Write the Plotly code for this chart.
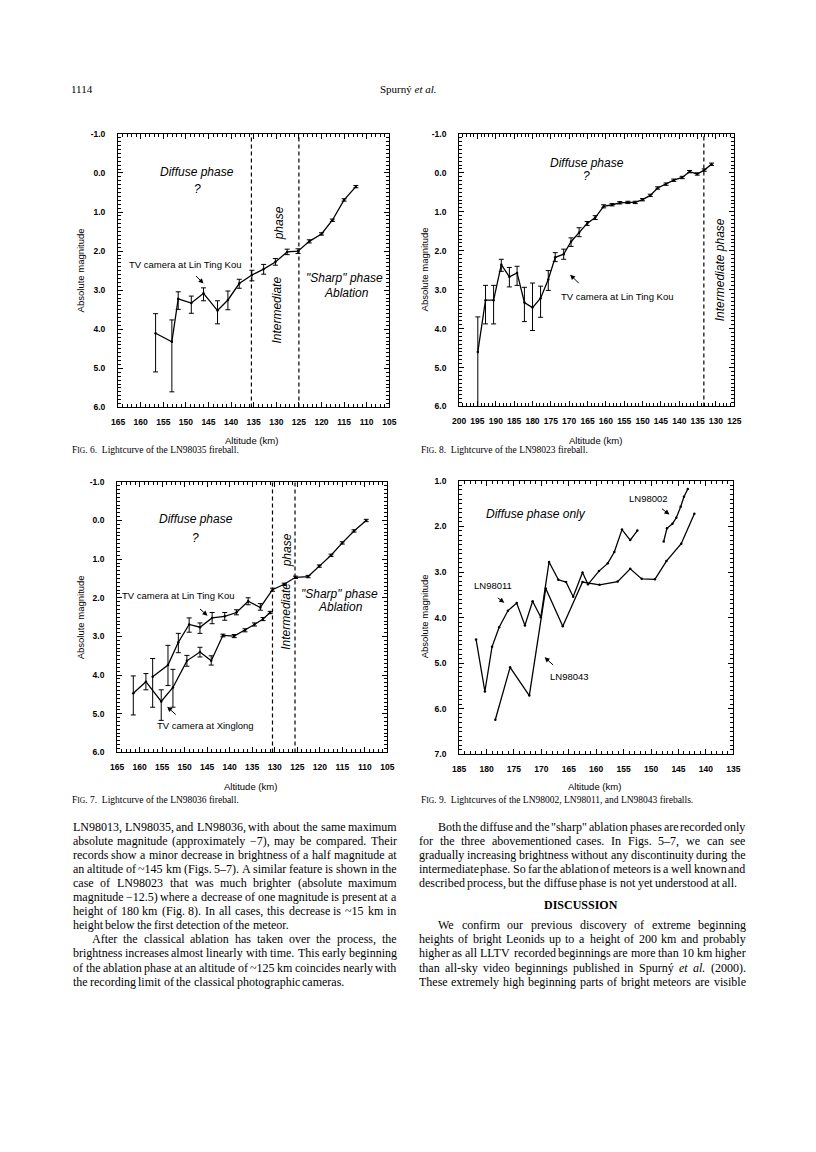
import re
import plotly.graph_objects as go

W, H = 816, 1152
SANS = "Liberation Sans, Arial, Helvetica, sans-serif"
SERIF = "Liberation Serif, Times New Roman, serif"

# ---------------- Fig. 6 : LN98035 ----------------
fig6_alt = [156.7, 153.1, 151.7, 148.8, 146.1, 143.0, 140.7, 138.2, 135.4, 132.8,
            130.2, 127.6, 125.2, 122.7, 120.0, 117.6, 115.0, 112.4]
fig6_mag = [4.10, 4.32, 3.22, 3.33, 3.08, 3.52, 3.25, 2.83, 2.61, 2.46,
            2.28, 2.02, 2.00, 1.75, 1.56, 1.21, 0.69, 0.35]
fig6_err_bright = [0.50, 0.56, 0.18, 0.18, 0.14, 0.25, 0.23, 0.11, 0.12, 0.12,
                   0.09, 0.07, 0.06, 0.04, 0.03, 0.03, 0.03, 0.03]
fig6_err_faint = [0.99, 1.28, 0.27, 0.26, 0.19, 0.34, 0.25, 0.12, 0.15, 0.13,
                  0.08, 0.07, 0.06, 0.04, 0.03, 0.03, 0.03, 0.03]
fig6_phase_bounds = [135.5, 125.0]
fig6_xticks = [165, 160, 155, 150, 145, 140, 135, 130, 125, 120, 115, 110, 105]
fig6_yticks = [-1, 0, 1, 2, 3, 4, 5, 6]

# ---------------- Fig. 8 : LN98023 ----------------
fig8_alt = [194.9, 192.8, 190.6, 188.5, 186.3, 184.2, 182.2, 180.0, 177.8, 175.7,
            173.8, 171.5, 169.5, 167.3, 165.1, 162.9, 160.6, 158.3, 156.2, 154.0,
            152.0, 150.0, 147.9, 145.9, 143.6, 141.5, 139.2, 137.2, 135.1, 133.2, 131.2]
fig8_mag = [4.60, 3.27, 3.27, 2.36, 2.67, 2.57, 3.33, 3.46, 3.22, 2.74,
            2.17, 2.09, 1.77, 1.54, 1.30, 1.15, 0.86, 0.82, 0.77, 0.76,
            0.76, 0.69, 0.58, 0.39, 0.29, 0.19, 0.12, -0.03, 0.03, -0.07, -0.22]
fig8_err_bright = [0.90, 0.38, 0.38, 0.14, 0.24, 0.17, 0.39, 0.63, 0.31, 0.23,
                   0.12, 0.13, 0.10, 0.13, 0.05, 0.05, 0.04, 0.03, 0.03, 0.03,
                   0.03, 0.03, 0.03, 0.03, 0.03, 0.03, 0.03, 0.03, 0.03, 0.03, 0.03]
fig8_err_faint = [1.40, 0.61, 0.61, 0.17, 0.26, 0.32, 0.49, 0.59, 0.49, 0.28,
                  0.11, 0.13, 0.12, 0.10, 0.05, 0.05, 0.04, 0.03, 0.03, 0.03,
                  0.03, 0.03, 0.03, 0.03, 0.03, 0.03, 0.03, 0.03, 0.03, 0.03, 0.03]
fig8_phase_bounds = [133.3]
fig8_xticks = [200, 195, 190, 185, 180, 175, 170, 165, 160, 155, 150, 145, 140, 135, 130, 125]
fig8_yticks = [-1, 0, 1, 2, 3, 4, 5, 6]

# ---------------- Fig. 7 : LN98036 ----------------
fig7_ltk_alt = [157.1, 153.7, 151.4, 149.0, 146.6, 143.9, 141.1, 138.5, 135.9, 133.2,
                130.5, 127.9, 125.4, 122.6, 120.1, 117.5, 115.0, 112.4, 109.7]
fig7_ltk_mag = [4.04, 3.74, 3.15, 2.69, 2.76, 2.52, 2.48, 2.38, 2.09, 2.25,
                1.79, 1.65, 1.47, 1.45, 1.18, 0.90, 0.58, 0.27, 0.00]
fig7_ltk_err_bright = [0.47, 0.51, 0.23, 0.17, 0.11, 0.14, 0.10, 0.07, 0.09, 0.10,
                       0.04, 0.03, 0.03, 0.03, 0.03, 0.03, 0.03, 0.03, 0.03]
fig7_ltk_err_faint = [0.79, 0.53, 0.27, 0.20, 0.16, 0.15, 0.10, 0.06, 0.09, 0.07,
                      0.04, 0.03, 0.03, 0.03, 0.03, 0.03, 0.03, 0.03, 0.03]
fig7_xl_alt = [161.4, 158.6, 155.2, 152.6, 149.5, 146.6, 144.1, 141.5, 139.0, 136.6,
               134.5, 132.6, 131.0]
fig7_xl_mag = [4.47, 4.17, 4.68, 4.32, 3.63, 3.40, 3.63, 2.97, 2.99, 2.84,
               2.69, 2.55, 2.38]
fig7_xl_err_bright = [0.45, 0.21, 0.30, 0.47, 0.14, 0.12, 0.13, 0.03, 0.04, 0.04,
                      0.04, 0.04, 0.03]
fig7_xl_err_faint = [0.56, 0.21, 0.49, 0.51, 0.14, 0.13, 0.11, 0.04, 0.04, 0.04,
                     0.04, 0.04, 0.03]
fig7_phase_bounds = [130.5, 125.5]
fig7_xticks = [165, 160, 155, 150, 145, 140, 135, 130, 125, 120, 115, 110, 105]
fig7_yticks = [-1, 0, 1, 2, 3, 4, 5, 6]

# ---------------- Fig. 9 : LN98002, LN98011, LN98043 ----------------
ln98011_alt = [181.9, 180.3, 179.0, 177.7, 176.1, 174.5, 173.0, 171.6, 170.1, 168.6,
               166.9, 165.5, 164.2, 162.5, 161.5, 159.5, 157.9, 156.7, 155.3, 153.8, 152.5]
ln98011_mag = [4.48, 5.62, 4.64, 4.21, 3.85, 3.68, 4.17, 3.64, 3.99, 2.78,
               3.17, 3.22, 3.54, 3.01, 3.27, 2.98, 2.81, 2.56, 2.07, 2.30, 2.09]
ln98043_alt = [178.4, 175.7, 172.2, 169.2, 166.1, 162.5, 159.4, 156.1, 153.8, 151.7,
               149.3, 147.2, 144.5, 142.1]
ln98043_mag = [6.24, 5.09, 5.71, 3.36, 4.19, 3.22, 3.28, 3.21, 2.93, 3.15,
               3.16, 2.76, 2.38, 1.72]
ln98002_alt = [147.7, 147.1, 146.1, 145.4, 144.6, 144.0, 143.3]
ln98002_mag = [2.33, 2.04, 1.94, 1.81, 1.57, 1.35, 1.18]
fig9_xticks = [185, 180, 175, 170, 165, 160, 155, 150, 145, 140, 135]
fig9_yticks = [1, 2, 3, 4, 5, 6, 7]

# ---------------- page text ----------------
left_paragraphs = [
    (False, ["LN98013, LN98035, and LN98036, with about the same maximum",
             "absolute magnitude (approximately −7), may be compared.  Their",
             "records show a minor decrease in brightness of a half magnitude at",
             "an altitude of ~145 km (Figs. 5–7).  A similar feature is shown in the",
             "case of LN98023 that was much brighter (absolute maximum",
             "magnitude −12.5) where a decrease of one magnitude is present at a",
             "height of 180 km (Fig. 8).  In all cases, this decrease is ~15 km in",
             "height below the first detection of the meteor."]),
    (True, ["After the classical ablation has taken over the process, the",
            "brightness increases almost linearly with time.  This early beginning",
            "of the ablation phase at an altitude of ~125 km coincides nearly with",
            "the recording limit of the classical photographic cameras."]),
]
right_par1 = ["Both the diffuse and the \"sharp\" ablation phases are recorded only",
              "for the three abovementioned cases.  In Figs. 5–7, we can see",
              "gradually increasing brightness without any discontinuity during the",
              "intermediate phase.  So far the ablation of meteors is a well known and",
              "described process, but the diffuse phase is not yet understood at all."]
right_par2 = ["We confirm our previous discovery of extreme beginning",
              "heights of bright Leonids up to a height of 200 km and probably",
              "higher as all LLTV recorded beginnings are more than 10 km higher",
              "than all-sky video beginnings published in Spurný <i>et</i> <i>al.</i> (2000).",
              "These extremely high beginning parts of bright meteors are visible"]

TIMES = {' ': 250, 'a': 444, 'b': 500, 'c': 444, 'd': 500, 'e': 444, 'f': 333, 'g': 500,
         'h': 500, 'i': 278, 'j': 278, 'k': 500, 'l': 278, 'm': 778, 'n': 500, 'o': 500,
         'p': 500, 'q': 500, 'r': 333, 's': 389, 't': 278, 'u': 500, 'v': 500, 'w': 722,
         'x': 500, 'y': 500, 'z': 444, 'A': 722, 'B': 667, 'C': 667, 'D': 722, 'E': 611,
         'F': 556, 'G': 722, 'H': 722, 'I': 333, 'J': 389, 'K': 722, 'L': 611, 'M': 889,
         'N': 722, 'O': 722, 'P': 556, 'Q': 722, 'R': 667, 'S': 556, 'T': 611, 'U': 722,
         'V': 722, 'W': 944, 'X': 722, 'Y': 722, 'Z': 611, ',': 250, '.': 250, '(': 333,
         ')': 333, '-': 333, '–': 500, '−': 564, '~': 541, '"': 408, ':': 278, ';': 278,
         'ý': 500}


def text_w(s, size):
    s = re.sub(r"<[^>]+>", "", s)
    return sum(TIMES.get(c, 500) for c in s) / 1000.0 * size


def px(x):
    return x / W


def py(y):
    return 1 - y / H


anns = []


def label(text, x, y, size=12, family=SANS, angle=0, xanchor="center", italic=False, bold=False):
    t = text
    if italic:
        t = "<i>" + t + "</i>"
    if bold:
        t = "<b>" + t + "</b>"
    anns.append(dict(text=t, x=px(x), y=py(y), xref="paper", yref="paper", showarrow=False,
                     xanchor=xanchor, yanchor="middle", textangle=angle,
                     font=dict(family=family, size=size, color="black"), borderpad=0))


def arrow(tail, head):
    anns.append(dict(text="", x=px(head[0]), y=py(head[1]), xref="paper", yref="paper",
                     ax=tail[0] - head[0], ay=tail[1] - head[1], showarrow=True,
                     arrowhead=2, arrowsize=1, arrowwidth=1, arrowcolor="black", standoff=0))


def body_line(line, x0, x1, y, indent, justify, size=12):
    words = line.split()
    x = x0 + indent
    widths = [text_w(w, size) for w in words]
    if justify and len(words) > 1:
        gap = (x1 - x - sum(widths)) / (len(words) - 1)
        gap = max(gap, 1.5)
    else:
        gap = 0.25 * size
    for w, ww in zip(words, widths):
        anns.append(dict(text=w, x=px(x), y=py(y), xref="paper", yref="paper", showarrow=False,
                         xanchor="left", yanchor="middle", borderpad=0,
                         font=dict(family=SERIF, size=size, color="black")))
        x += ww + gap


fig = go.Figure()

boxes = {1: (113, 389, 130, 406), 2: (460, 740, 130, 405),
         3: (112, 387, 481, 754), 4: (460, 739, 480, 756)}
ranges = {1: ([165, 105], [6, -1]), 2: ([200, 125], [6, -1]),
          3: ([165, 105], [6, -1]), 4: ([185, 135], [7, 1])}
ticks = {1: (fig6_xticks, fig6_yticks), 2: (fig8_xticks, fig8_yticks),
         3: (fig7_xticks, fig7_yticks), 4: (fig9_xticks, fig9_yticks)}

layout_axes = {}
for n in range(1, 5):
    x0, x1, y0, y1 = boxes[n]
    xr, yr = ranges[n]
    xt, yt = ticks[n]
    sfx = "" if n == 1 else str(n)
    common = dict(showline=True, linecolor="black", linewidth=1, mirror="allticks",
                  ticks="inside", ticklen=5, tickwidth=1, tickcolor="black",
                  showgrid=False, zeroline=False, fixedrange=True,
                  tickfont=dict(family=SANS, size=8.5, color="black", weight="bold"))
    layout_axes["xaxis" + sfx] = dict(
        common, domain=[px(x0), px(x1)], range=xr, anchor="y" + sfx,
        tickmode="array", tickvals=xt, ticktext=[str(v) for v in xt], ticklabelstandoff=6,
        minor=dict(tickmode="linear", tick0=0, dtick=1, ticks="inside", ticklen=3,
                   tickwidth=1, tickcolor="black", showgrid=False))
    layout_axes["yaxis" + sfx] = dict(
        common, domain=[py(y1), py(y0)], range=yr, anchor="x" + sfx,
        tickmode="array", tickvals=yt, ticktext=[f"{v:.1f}" for v in yt], ticklabelstandoff=10,
        minor=dict(tickmode="linear", tick0=0, dtick=0.1, ticks="inside", ticklen=3,
                   tickwidth=1, tickcolor="black", showgrid=False))


def curve(xs, ys, n, err_b=None, err_f=None):
    sfx = "" if n == 1 else str(n)
    kw = {}
    if err_b is not None:
        kw["error_y"] = dict(type="data", symmetric=False, array=err_f, arrayminus=err_b,
                             color="black", thickness=1, width=2.5)
    fig.add_trace(go.Scatter(x=xs, y=ys, mode="lines+markers", xaxis="x" + sfx, yaxis="y" + sfx,
                             line=dict(color="black", width=1.3),
                             marker=dict(size=2.5, color="black"),
                             showlegend=False, hoverinfo="skip", **kw))


curve(fig6_alt, fig6_mag, 1, fig6_err_bright, fig6_err_faint)
curve(fig8_alt, fig8_mag, 2, fig8_err_bright, fig8_err_faint)
curve(fig7_ltk_alt, fig7_ltk_mag, 3, fig7_ltk_err_bright, fig7_ltk_err_faint)
curve(fig7_xl_alt, fig7_xl_mag, 3, fig7_xl_err_bright, fig7_xl_err_faint)
curve(ln98011_alt, ln98011_mag, 4)
curve(ln98043_alt, ln98043_mag, 4)
curve(ln98002_alt, ln98002_mag, 4)

shapes = []
for n, bounds in ((1, fig6_phase_bounds), (2, fig8_phase_bounds), (3, fig7_phase_bounds)):
    sfx = "" if n == 1 else str(n)
    for b in bounds:
        shapes.append(dict(type="line", xref="x" + sfx, yref="y" + sfx + " domain",
                           x0=b, x1=b, y0=0, y1=1,
                           line=dict(color="black", width=1.2, dash="4px,3px")))

# ---- panel texts: Fig. 6 ----
label("Diffuse phase", 193, 168, italic=True)
label("?", 194, 186, italic=True)
label("phase", 277, 220, angle=-90, italic=True)
label("Intermediate", 275, 308, angle=-90, italic=True)
label("\"Sharp\" phase", 343, 275, italic=True)
label("Ablation", 345, 291, italic=True)
label("TV camera at Lin Ting Kou", 123, 262, size=9.5, xanchor="left")
arrow((191, 272), (200, 281))
label("Absolute magnitude", 75, 268, size=9.5, angle=-90)
label("Altitude (km)", 249, 439, size=9.5)

# ---- Fig. 8 ----
label("Diffuse phase", 590, 159, italic=True)
label("?", 590, 173, italic=True)
label("Intermediate phase", 725, 267, angle=-90, italic=True)
label("TV camera at Lin Ting Kou", 563, 294, size=9.5, xanchor="left")
arrow((583, 282), (573, 272))
label("Absolute magnitude", 425, 267, size=9.5, angle=-90)
label("Altitude (km)", 599, 439, size=9.5)

# ---- Fig. 7 ----
label("Diffuse phase", 192, 519, italic=True)
label("?", 192, 538, italic=True)
label("phase", 285, 550, angle=-90, italic=True)
label("Intermediate", 283, 617, angle=-90, italic=True)
label("\"Sharp\" phase", 338, 594, italic=True)
label("Ablation", 339, 607, italic=True)
label("TV camera at Lin Ting Kou", 116, 596, size=9.5, xanchor="left")
arrow((195, 608), (204, 616))
label("TV camera at Xinglong", 152, 727, size=9.5, xanchor="left")
arrow((173, 717), (163, 708))
label("Absolute magnitude", 75, 618, size=9.5, angle=-90)
label("Altitude (km)", 248, 788, size=9.5)

# ---- Fig. 9 ----
label("Diffuse phase only", 538, 513, italic=True)
label("LN98002", 653, 498, size=9.5)
arrow((665, 507), (674, 514))
label("LN98011", 494, 586, size=9.5)
arrow((498, 597), (506, 603))
label("LN98043", 572, 677, size=9.5)
arrow((557, 667), (547, 658))
label("Absolute magnitude", 425, 617, size=9.5, angle=-90)
label("Altitude (km)", 598, 788, size=9.5)

# ---- captions ----
SC = "<span style='font-size:7.5px'>IG</span>"
label("F" + SC + ". 6.  Lightcurve of the LN98035 fireball.", 65, 449, size=9.5, family=SERIF, xanchor="left")
label("F" + SC + ". 8.  Lightcurve of the LN98023 fireball.", 420, 449, size=9.5, family=SERIF, xanchor="left")
label("F" + SC + ". 7.  Lightcurve of the LN98036 fireball.", 65, 802, size=9.5, family=SERIF, xanchor="left")
label("F" + SC + ". 9.  Lightcurves of the LN98002, LN98011, and LN98043 fireballs.", 420, 802,
      size=9.5, family=SERIF, xanchor="left")

# ---- header ----
label("1114", 64, 85, size=11, family=SERIF, xanchor="left")
label("Spurný <i>et al.</i>", 408, 85, size=11, family=SERIF)

# ---- body text ----
LX0, LX1, RX0, RX1 = 66, 395, 418, 750
Y0, DY, IND = 829, 14.2, 19
row = 0
for indented, lines in left_paragraphs:
    for i, ln in enumerate(lines):
        last = i == len(lines) - 1
        body_line(ln, LX0, LX1, Y0 + DY * row, IND if (indented and i == 0) else 0, not last)
        row += 1
for i, ln in enumerate(right_par1):
    body_line(ln, RX0, RX1, Y0 + DY * i, IND if i == 0 else 0, i < len(right_par1) - 1)
label("DISCUSSION", 584, Y0 + DY * 5.55, size=12, family=SERIF, bold=True)
for i, ln in enumerate(right_par2):
    body_line(ln, RX0, RX1, Y0 + DY * (7 + i), IND if i == 0 else 0, True)

fig.update_layout(width=W, height=H, margin=dict(l=0, r=0, t=0, b=0),
                  paper_bgcolor="white", plot_bgcolor="white", showlegend=False,
                  annotations=anns, shapes=shapes, **layout_axes)

fig.write_html("out.html", config={"displayModeBar": False},
               post_script="document.body.style.margin='0';document.body.style.overflow='hidden';")
